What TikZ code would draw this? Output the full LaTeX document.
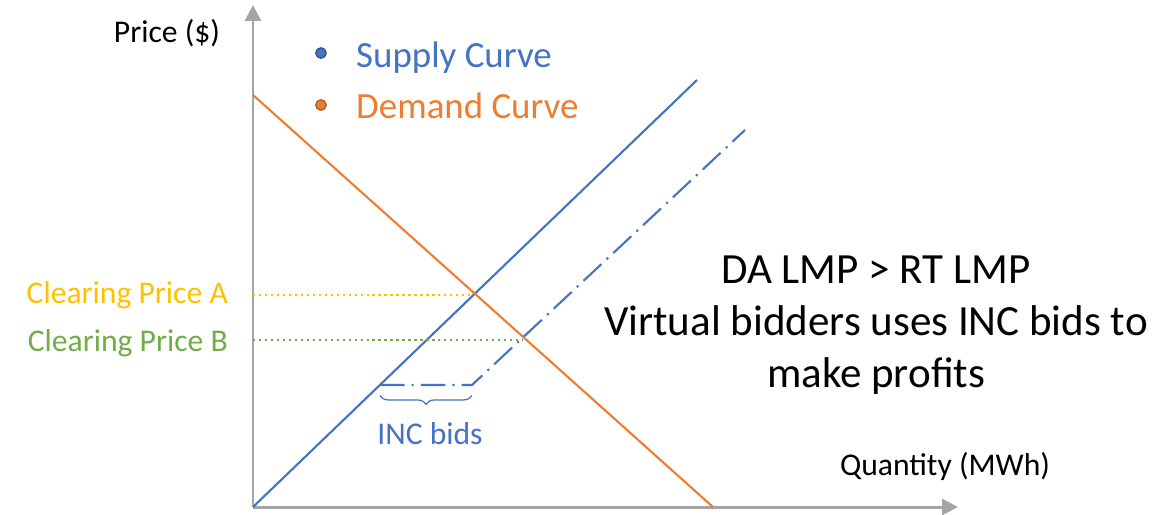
\documentclass[tikz,border=0pt]{standalone}
\usepackage{fontspec}
\setmainfont{Carlito}
\usepackage{xcolor}
\usetikzlibrary{arrows.meta, positioning, decorations.pathreplacing}

\definecolor{supblue}{HTML}{4472C4}
\definecolor{demorange}{HTML}{ED7D31}
\definecolor{priceyellow}{HTML}{FFC000}
\definecolor{pricegreen}{HTML}{70AD47}
\definecolor{axisgray}{HTML}{A5A5A5}

\begin{document}
\begin{tikzpicture}[
    x=0.02cm, y=-0.02cm,
    every node/.style={font=\fontsize{18}{22}\selectfont},
    axis/.style={axisgray, line width=1.7pt, -{Triangle[width=9pt,length=9pt]}},
    curve/.style={line width=1.2pt},
    virtual/.style={supblue, line width=1.2pt, dash pattern=on 14pt off 4pt on 1.2pt off 4pt},
    level/.style={line width=1.3pt, dash pattern=on 1.3pt off 2.1pt},
    legend/.style={circle, inner sep=0pt, minimum size=6pt, line width=0.7pt},
    bigtext/.style={font=\fontsize{24.5}{29.5}\selectfont, align=center}
]

\useasboundingbox (0,0) rectangle (1158,514);

% axes
\coordinate (o) at (253,507);
\coordinate (ytop) at (253,5);
\coordinate (xend) at (958,507);
\draw [axis] (o) -- (ytop);
\draw [axis] (o) -- (xend);

\node (price) at (167,33) {Price (\$)};
\node (qty) at (945,466) {Quantity (MWh)};

% curves
\coordinate (stop) at (697,80);
\coordinate (dtop) at (253,95);
\coordinate (dend) at (713,507);
\coordinate (inca) at (380,385);
\coordinate (incb) at (472,385);
\coordinate (vtop) at (745,130);
\draw [curve, supblue] (o) -- (stop);
\draw [curve, demorange] (dtop) -- (dend);
\draw [virtual] (inca) -- (incb) -- (vtop);

% clearing prices
\coordinate (pa) at (253,295);
\coordinate (ea) at (472,295);
\coordinate (pb) at (253,340);
\coordinate (eb) at (523,340);
\draw [level, priceyellow] (pa) -- (ea);
\draw [level, pricegreen] (pb) -- (eb);
\node (labela) [anchor=east, text=priceyellow] at (234,295) {Clearing Price A};
\node (labelb) [anchor=east, text=pricegreen] at (234,343) {Clearing Price B};

% INC bids brace
\draw [supblue, line width=0.7pt, decorate, decoration={brace, mirror, amplitude=5pt}] ([yshift=-6pt]inca) -- ([yshift=-6pt]incb);
\node (inc) [text=supblue] at (430,434) {INC bids};

% legend
\node (dsup) [legend, draw=supblue!70!black, fill=supblue] at (321,53) {};
\node (ddem) [legend, draw=demorange!70!black, fill=demorange] at (321,105) {};
\node (lsup) [anchor=west, text=supblue, font=\fontsize{21}{25}\selectfont] at (350,58) {Supply Curve};
\node (ldem) [anchor=west, text=demorange, font=\fontsize{21}{25}\selectfont] at (350,106) {Demand Curve};

% note
\node (note) [bigtext] at (876,325) {DA LMP > RT LMP\\ Virtual bidders uses INC bids to\\ make profits};

\end{tikzpicture}
\end{document}
